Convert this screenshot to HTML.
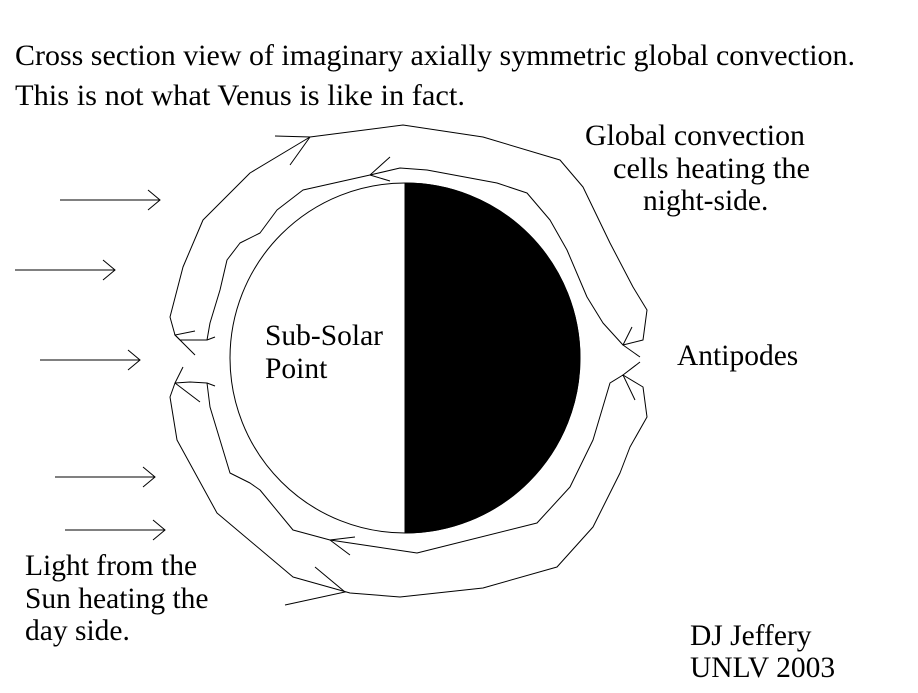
<!DOCTYPE html>
<html><head><meta charset="utf-8"><style>
html,body{margin:0;padding:0;background:#fff;}
svg{display:block;}
text{font-family:"Liberation Serif",serif;font-size:29.5px;fill:#000;}
</style></head><body>
<svg width="918" height="693" viewBox="0 0 918 693" xmlns="http://www.w3.org/2000/svg">
<g fill="none" stroke="#000" stroke-width="1">
<path d="M405,183 A175,175 0 0 1 405,533 Z" fill="#000"/>
<circle cx="405" cy="358" r="175"/>
<path d="M175,335 L170,317 L183,267 L203,220 L250,173 L310,137 L403,125 L483,137 L560,160 L583,187 L610,243 L633,287 L647,310 L643,340 L623,345 L603,323 L587,297 L567,250 L550,220 L527,193 L497,183 L427,170 L400,168 L370,175 L303,190 L277,210 L260,233 L240,243 L227,260 L220,290 L210,323 L207,340 L180,340 Z" stroke-linejoin="round"/>
<path d="M275,136 L310,137 L290,165"/>
<path d="M390,157 L370,175 L390,181"/>
<path d="M195,331 L175,335 L195,355"/>
<path d="M207,340 L215,337"/>
<path d="M632,327 L623,345 L640,357"/>
<path d="M175,383 L170,397 L177,440 L217,513 L293,577 L350,593 L400,597 L483,588 L557,567 L593,527 L620,473 L630,447 L647,417 L643,387 L623,375 L610,383 L593,440 L570,487 L537,523 L417,553 L377,547 L330,540 L293,530 L260,490 L250,483 L230,473 L220,440 L210,407 L207,383 L190,382 Z" stroke-linejoin="round"/>
<path d="M285,605 L345,592 L315,567"/>
<path d="M355,537 L330,540 L350,555"/>
<path d="M183,367 L175,383 L200,402"/>
<path d="M207,383 L215,386"/>
<path d="M640,362 L623,375 L635,400"/>
<path d="M60,200 L160,200 M148,190 L160,200 L148,210"/>
<path d="M15,270 L115,270 M103,260 L115,270 L103,280"/>
<path d="M40,360 L140,360 M128,350 L140,360 L128,370"/>
<path d="M55,477 L155,477 M143,467 L155,477 L143,487"/>
<path d="M65,530 L165,530 M153,520 L165,530 L153,540"/>
</g>
<text x="15" y="65" textLength="840" lengthAdjust="spacingAndGlyphs">Cross section view of imaginary axially symmetric global convection.</text>
<text x="15" y="105" textLength="450" lengthAdjust="spacingAndGlyphs">This is not what Venus is like in fact.</text>
<text x="585" y="145" textLength="220" lengthAdjust="spacingAndGlyphs">Global convection</text>
<text x="613" y="178" textLength="197" lengthAdjust="spacingAndGlyphs">cells heating the</text>
<text x="643" y="210">night-side.</text>
<text x="677" y="365">Antipodes</text>
<text x="265" y="345">Sub-Solar</text>
<text x="265" y="378">Point</text>
<text x="25" y="575">Light from the</text>
<text x="25" y="608">Sun heating the</text>
<text x="25" y="640">day side.</text>
<text x="690" y="645">DJ Jeffery</text>
<text x="690" y="677">UNLV 2003</text>
</svg>
</body></html>
